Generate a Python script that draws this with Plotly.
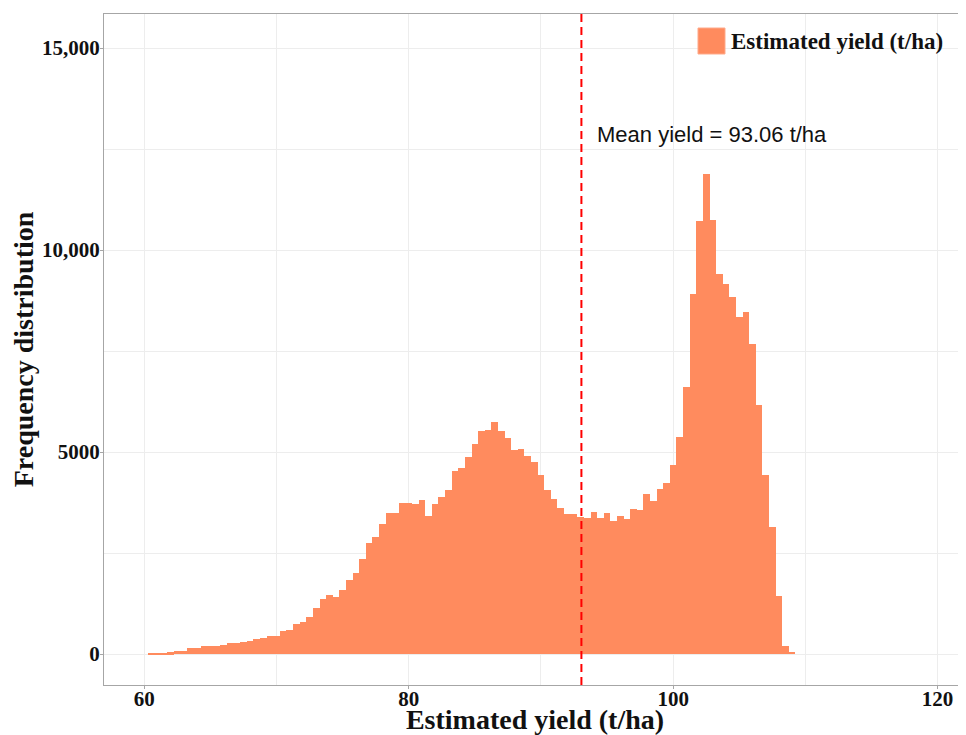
import plotly.graph_objects as go

# ---- data ----
bin_start = 60.25          # left edge of the first histogram bin (t/ha)
bin_width = 0.5            # histogram bin width (t/ha)
counts = [
    15, 25, 35, 45, 65, 75, 140, 150, 190, 200,
    205, 230, 265, 275, 290, 320, 370, 390, 435, 455,
    580, 595, 735, 785, 915, 1145, 1360, 1460, 1410, 1590,
    1830, 2000, 2360, 2745, 2905, 3210, 3495, 3480, 3735, 3735,
    3705, 3810, 3425, 3720, 3880, 4070, 4530, 4610, 4865, 5205,
    5510, 5545, 5735, 5525, 5345, 5040, 5065, 4900, 4745, 4430,
    4060, 3830, 3605, 3455, 3455, 3400, 3360, 3505, 3370, 3480,
    3300, 3415, 3350, 3580, 3565, 3960, 3780, 4085, 4230, 4670,
    5365, 6600, 8910, 10715, 11880, 10750, 9410, 9165, 8845, 8350,
    8455, 7670, 6155, 4420, 3135, 1425, 205, 50,
]
mean_yield = 93.06
series_name = "Estimated yield (t/ha)"
mean_label = "Mean yield = 93.06 t/ha"

x_tickvals = [60, 80, 100, 120]
x_ticktext = ["60", "80", "100", "120"]
y_tickvals = [0, 5000, 10000, 15000]
y_ticktext = ["0", "5000", "10,000", "15,000"]

x_title = "Estimated yield (t/ha)"
y_title = "Frequency distribution"

bin_centers = [bin_start + bin_width * (i + 0.5) for i in range(len(counts))]

# ---- styling ----
BAR = "#FF8B5E"
SERIF = "Liberation Serif"
GRID = "#EDEDED"
AXLINE = "#A6A6A6"

fig = go.Figure()
fig.add_trace(go.Bar(
    x=bin_centers, y=counts, width=bin_width,
    marker=dict(color=BAR, line=dict(width=0)),
    name=series_name, showlegend=False,
))

# mean line
fig.add_shape(type="line", xref="x", yref="paper",
              x0=mean_yield, x1=mean_yield, y0=0, y1=1,
              line=dict(color="#FF0000", width=2, dash="8px,5px"),
              layer="above")

fig.add_annotation(x=mean_yield + 1.0, y=12850, xref="x", yref="y",
                   text=mean_label, showarrow=False,
                   xanchor="left", yanchor="middle",
                   font=dict(family="Liberation Sans", size=22, color="#111111"))

# legend (drawn as swatch + label to match the large key)
fig.add_shape(type="rect", xref="paper", yref="paper",
              x0=0.6891, x1=0.7204, y0=0.9404, y1=0.9791,
              fillcolor=BAR, line=dict(color="#FFA989", width=1), layer="above")
fig.add_annotation(x=0.7251, y=0.9585, xref="paper", yref="paper",
                   text=series_name, showarrow=False,
                   xanchor="left", yanchor="middle",
                   font=dict(family=SERIF, size=23, color="#111111", weight="bold"))

# page body has an 8px margin, so the figure is sized/offset to compensate
fig.update_layout(
    width=958, height=727,
    margin=dict(l=96, r=0, t=6, b=50),
    paper_bgcolor="white", plot_bgcolor="white",
    bargap=0, showlegend=False,
    font=dict(family=SERIF, color="#111111"),
)

fig.update_xaxes(
    range=[56.95, 122.15], autorange=False,
    tickvals=x_tickvals, ticktext=x_ticktext,
    tickfont=dict(family=SERIF, size=21, color="#111111", weight="bold"),
    ticklabelstandoff=-8,
    showgrid=True, gridcolor=GRID, gridwidth=1,
    minor=dict(dtick=10, tick0=60, showgrid=True, gridcolor=GRID, gridwidth=1, ticks=""),
    showline=True, linecolor=AXLINE, linewidth=1, mirror=True,
    ticks="outside", ticklen=3, tickcolor=AXLINE,
    zeroline=False, automargin=False,
    title=dict(text=x_title, standoff=14,
               font=dict(family=SERIF, size=28, color="#111111", weight="bold")),
)
fig.update_yaxes(
    range=[-767, 15842], autorange=False,
    tickvals=y_tickvals, ticktext=y_ticktext,
    tickfont=dict(family=SERIF, size=21, color="#111111", weight="bold"),
    ticklabelstandoff=-4,
    showgrid=True, gridcolor=GRID, gridwidth=1,
    minor=dict(tickvals=[2500, 7500, 12500], showgrid=True, gridcolor=GRID, gridwidth=1, ticks=""),
    showline=True, linecolor=AXLINE, linewidth=1, mirror=False,
    ticks="outside", ticklen=3, tickcolor=AXLINE,
    zeroline=False, automargin=False,
    title=dict(text=y_title, standoff=0,
               font=dict(family=SERIF, size=28, color="#111111", weight="bold")),
)

fig.write_html("out.html")
